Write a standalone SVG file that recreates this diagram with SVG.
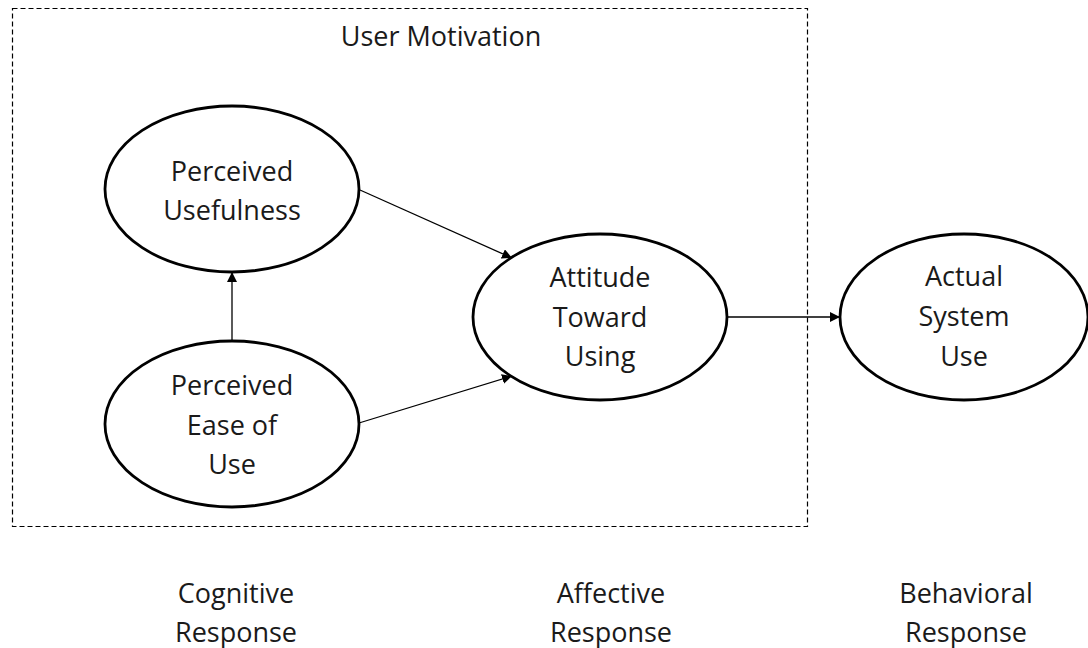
<svg xmlns="http://www.w3.org/2000/svg" width="1088" height="648" viewBox="0 0 1088 648">
<defs>
<style>
.t{font-family:"Open Sans","Liberation Sans",sans-serif;font-size:27px;fill:#1a1a1a;text-anchor:middle}
.n{fill:#fff;stroke:#000;stroke-width:2.8}
.c{stroke:#000;stroke-width:1.3;fill:none;marker-end:url(#ah)}
</style>
<marker id="ah" viewBox="0 0 10 10" refX="10" refY="5" markerWidth="10" markerHeight="10" markerUnits="userSpaceOnUse" orient="auto">
<path d="M0,0 L10,5 L0,10 z" fill="#000"/>
</marker>
</defs>
<rect width="1088" height="648" fill="#fff"/>
<g id="group-motivation">
<rect x="12.5" y="8.5" width="795" height="518" fill="none" stroke="#000" stroke-width="1.2" stroke-dasharray="5,3"/>
<text class="t" x="441" y="46">User Motivation</text>
</g>
<g id="connectors">
<line class="c" x1="360" y1="190" x2="512" y2="258"/>
<line class="c" x1="359" y1="423" x2="512" y2="376"/>
<line class="c" x1="232" y1="341" x2="232" y2="272"/>
<line class="c" x1="727" y1="317" x2="840" y2="317"/>
</g>
<g id="node-pu">
<ellipse class="n" cx="232" cy="189" rx="127" ry="83"/>
<text class="t" x="232" y="181">Perceived</text>
<text class="t" x="232" y="220">Usefulness</text>
</g>
<g id="node-peou">
<ellipse class="n" cx="232" cy="424" rx="127" ry="83"/>
<text class="t" x="232" y="395">Perceived</text>
<text class="t" x="232" y="435">Ease of</text>
<text class="t" x="232" y="474">Use</text>
</g>
<g id="node-att">
<ellipse class="n" cx="600" cy="317" rx="127" ry="83"/>
<text class="t" x="600" y="287">Attitude</text>
<text class="t" x="600" y="327">Toward</text>
<text class="t" x="600" y="366">Using</text>
</g>
<g id="node-asu">
<ellipse class="n" cx="964" cy="317" rx="124" ry="83"/>
<text class="t" x="964" y="286">Actual</text>
<text class="t" x="964" y="326">System</text>
<text class="t" x="964" y="366">Use</text>
</g>
<g id="labels">
<text class="t" x="236" y="603">Cognitive</text>
<text class="t" x="236" y="642">Response</text>
<text class="t" x="611" y="603">Affective</text>
<text class="t" x="611" y="642">Response</text>
<text class="t" x="966" y="603">Behavioral</text>
<text class="t" x="966" y="642">Response</text>
</g>
</svg>
